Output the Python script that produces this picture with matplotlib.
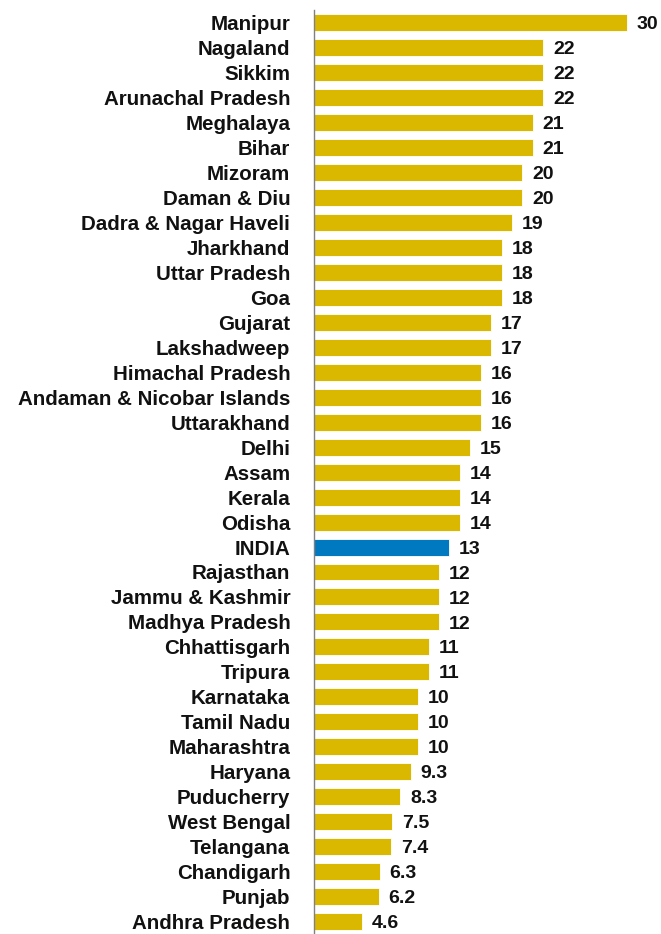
import matplotlib
matplotlib.use("Agg")
import matplotlib.pyplot as plt

states = ["Manipur", "Nagaland", "Sikkim", "Arunachal Pradesh", "Meghalaya", "Bihar",
          "Mizoram", "Daman & Diu", "Dadra & Nagar Haveli", "Jharkhand", "Uttar Pradesh",
          "Goa", "Gujarat", "Lakshadweep", "Himachal Pradesh", "Andaman & Nicobar Islands",
          "Uttarakhand", "Delhi", "Assam", "Kerala", "Odisha", "INDIA", "Rajasthan",
          "Jammu & Kashmir", "Madhya Pradesh", "Chhattisgarh", "Tripura", "Karnataka",
          "Tamil Nadu", "Maharashtra", "Haryana", "Puducherry", "West Bengal", "Telangana",
          "Chandigarh", "Punjab", "Andhra Pradesh"]
values = [30, 22, 22, 22, 21, 21, 20, 20, 19, 18, 18, 18, 17, 17, 16, 16, 16, 15, 14, 14, 14,
          13, 12, 12, 12, 11, 11, 10, 10, 10, 9.3, 8.3, 7.5, 7.4, 6.3, 6.2, 4.6]

gold = "#DBB800"
blue = "#0079C1"
colors = [blue if s == "INDIA" else gold for s in states]

plt.rcParams['font.family'] = ['Liberation Sans', 'DejaVu Sans']

fig = plt.figure(figsize=(6.61, 9.34), dpi=100)
ax = fig.add_axes([0.475, 0.0, 0.52, 0.989])

y = list(range(len(states)))
ax.barh(y, values, height=0.68, color=colors, edgecolor="white", linewidth=0.6)
ax.set_ylim(len(states) - 0.5, -0.5)
ax.set_xlim(0, 30 * 343 / 312)

ax.set_yticks(y)
ax.set_yticklabels(states, fontsize=14.8, fontweight="bold", color="#111111")
ax.tick_params(axis="y", length=0, pad=17)
ax.set_xticks([])

for sp in ["top", "right", "bottom"]:
    ax.spines[sp].set_visible(False)
ax.spines["left"].set_color("#808080")
ax.spines["left"].set_linewidth(1.0)

for yi, v in zip(y, values):
    txt = f"{v:g}"
    ax.annotate(txt, (v, yi), xytext=(7, -1.5), textcoords="offset points",
                ha="left", va="center", fontsize=14, fontweight="bold", color="#111111")

fig.savefig("out.png", dpi=100)
